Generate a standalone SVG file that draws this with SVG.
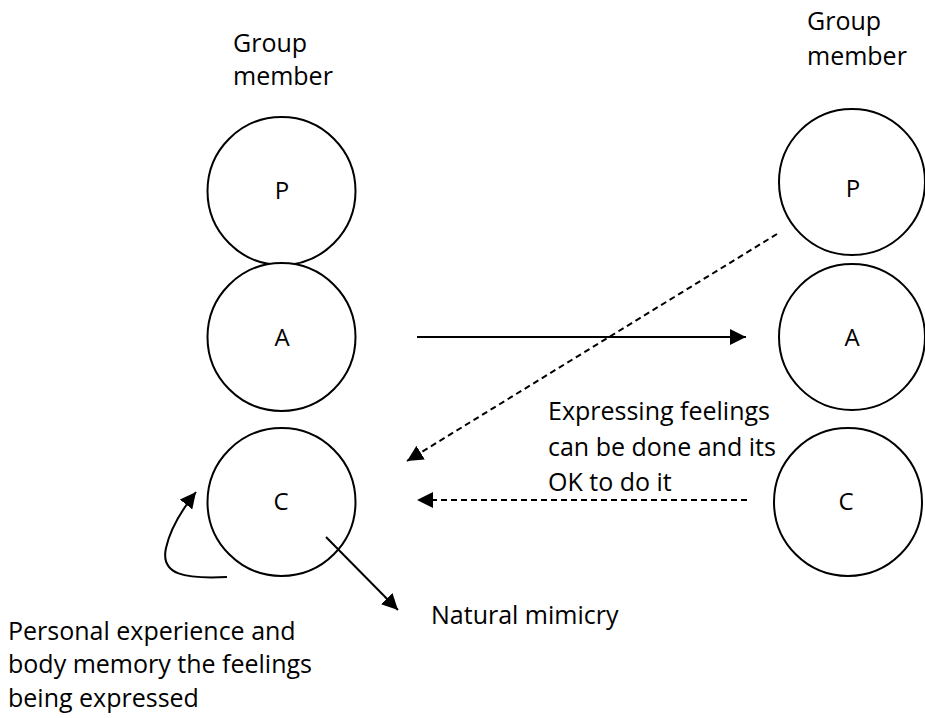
<svg xmlns="http://www.w3.org/2000/svg" width="925" height="718" viewBox="0 0 925 718">
<style>
text{font-family:"Open Sans","Liberation Sans",sans-serif;font-size:25px;fill:#000}
.c{text-anchor:middle;font-size:24px}
.n{fill:#fff;stroke:#000;stroke-width:2}
.l{fill:none;stroke:#000;stroke-width:2}
.d{fill:none;stroke:#000;stroke-width:2;stroke-dasharray:6 4}
</style>
<defs>
<marker id="ahb" viewBox="0 0 10 10" refX="10" refY="5" markerWidth="16" markerHeight="16" markerUnits="userSpaceOnUse" orient="auto">
<path d="M0,0 L10,5 L0,10 z" fill="#000"/>
</marker>
</defs>
<rect width="925" height="718" fill="#fff"/>
<g id="label-left"><text x="233" y="52">Group</text><text x="233" y="85">member</text></g>
<g id="label-right"><text x="807" y="30">Group</text><text x="807" y="65">member</text></g>
<g id="left-P"><circle class="n" cx="281.500" cy="191" r="74"/><text class="c" x="282" y="199">P</text></g>
<g id="left-A"><circle class="n" cx="281.500" cy="337" r="74"/><text class="c" x="282" y="346">A</text></g>
<g id="left-C"><circle class="n" cx="281.500" cy="502" r="74"/><text class="c" x="281" y="510">C</text></g>
<g id="right-P"><circle class="n" cx="852" cy="182" r="73"/><text class="c" x="853" y="197">P</text></g>
<g id="right-A"><circle class="n" cx="852" cy="337" r="73"/><text class="c" x="852" y="346">A</text></g>
<g id="right-C"><circle class="n" cx="848" cy="502" r="74"/><text class="c" x="846" y="510">C</text></g>
<g id="connectors">
<line class="l" x1="417" y1="337" x2="746" y2="337" marker-end="url(#ahb)"/>
<line class="d" x1="777" y1="234" x2="407" y2="461" marker-end="url(#ahb)"/>
<line class="d" x1="747" y1="500" x2="417" y2="500" marker-end="url(#ahb)"/>
<line class="l" x1="326" y1="537" x2="398" y2="610" marker-end="url(#ahb)"/>
<path class="l" d="M227,577 C185,579 160,575 166,548 C170,530 180,512 196,492" marker-end="url(#ahb)"/>
</g>
<g id="label-expressing"><text x="548" y="420">Expressing feelings</text><text x="548" y="456">can be done and its</text><text x="548" y="491">OK to do it</text></g>
<g id="label-mimicry"><text x="431" y="624">Natural mimicry</text></g>
<g id="label-personal"><text x="8" y="640">Personal experience and</text><text x="8" y="673">body memory the feelings</text><text x="8" y="707">being expressed</text></g>
</svg>
